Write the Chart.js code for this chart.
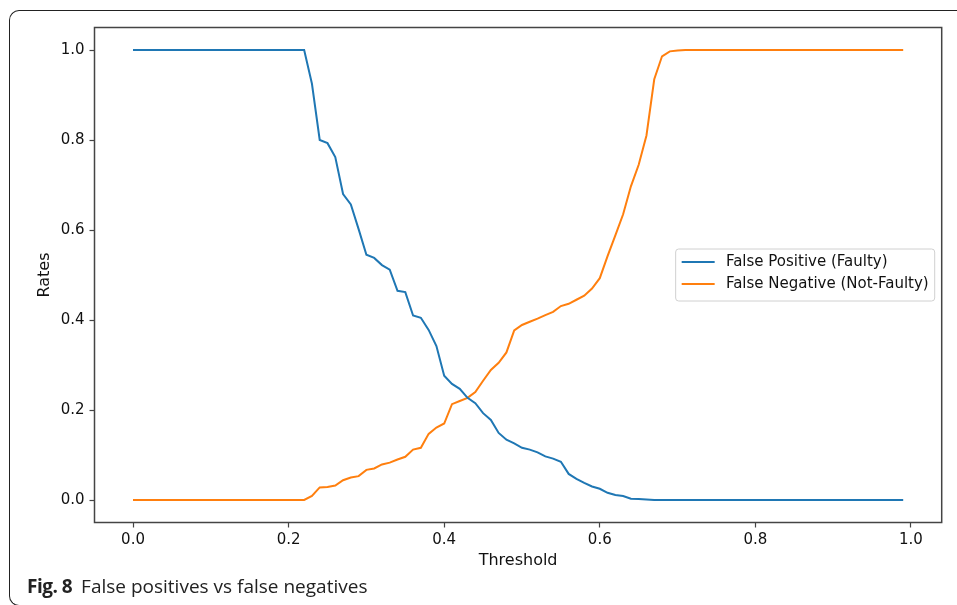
<!DOCTYPE html>
<html>
<head>
<meta charset="utf-8">
<script src="https://cdn.jsdelivr.net/npm/chart.js@4"></script>
<style>
    body { margin: 0; background: #fff; }
    #wrap { position: relative; width: 957px; height: 605px; overflow: hidden; }
    #frame {
        position: absolute; left: 9px; top: 10px; width: 1000px; height: 594px;
        border-left: 1.5px solid #222; border-top: 1.5px solid #222;
        border-bottom: 1.5px solid #222;
        border-radius: 10px 0 0 10px;
    }
    #fpChart { position: absolute; left: 0; top: 0; }
    #caption {
        position: absolute; left: 27px; top: 573px;
        font-family: "Open Sans", "Noto Sans", sans-serif; font-size: 19px; color: #222;
        white-space: nowrap;
    }
    #caption b { font-weight: 700; margin-right: 4px; letter-spacing: -0.5px; }
</style>
</head>
<body>
<div id="wrap">
    <div id="frame"></div>
    <canvas id="fpChart" width="957" height="605"></canvas>
    <div id="caption"><b>Fig. 8</b> False positives vs false negatives</div>
</div>
<script>
// threshold values (x axis)
const thresholds = [
    0.00, 0.01, 0.02, 0.03, 0.04, 0.05, 0.06, 0.07, 0.08, 0.09,
    0.10, 0.11, 0.12, 0.13, 0.14, 0.15, 0.16, 0.17, 0.18, 0.19,
    0.20, 0.21, 0.22, 0.23, 0.24, 0.25, 0.26, 0.27, 0.28, 0.29,
    0.30, 0.31, 0.32, 0.33, 0.34, 0.35, 0.36, 0.37, 0.38, 0.39,
    0.40, 0.41, 0.42, 0.43, 0.44, 0.45, 0.46, 0.47, 0.48, 0.49,
    0.50, 0.51, 0.52, 0.53, 0.54, 0.55, 0.56, 0.57, 0.58, 0.59,
    0.60, 0.61, 0.62, 0.63, 0.64, 0.65, 0.66, 0.67, 0.68, 0.69,
    0.70, 0.71, 0.72, 0.73, 0.74, 0.75, 0.76, 0.77, 0.78, 0.79,
    0.80, 0.81, 0.82, 0.83, 0.84, 0.85, 0.86, 0.87, 0.88, 0.89,
    0.90, 0.91, 0.92, 0.93, 0.94, 0.95, 0.96, 0.97, 0.98, 0.99
];

const falsePositive = [
    1, 1, 1, 1, 1, 1, 1, 1, 1, 1,
    1, 1, 1, 1, 1, 1, 1, 1, 1, 1,
    1, 1, 1, 0.925, 0.80, 0.793, 0.762, 0.68, 0.657, 0.602,
    0.545, 0.538, 0.522, 0.512, 0.465, 0.462, 0.41, 0.405, 0.378, 0.342,
    0.276, 0.258, 0.247, 0.227, 0.215, 0.193, 0.178, 0.149, 0.134, 0.126,
    0.116, 0.112, 0.106, 0.097, 0.092, 0.085, 0.058, 0.047, 0.038, 0.030,
    0.025, 0.016, 0.011, 0.009, 0.003, 0.002, 0.001, 0, 0, 0,
    0, 0, 0, 0, 0, 0, 0, 0, 0, 0,
    0, 0, 0, 0, 0, 0, 0, 0, 0, 0,
    0, 0, 0, 0, 0, 0, 0, 0, 0, 0
];

const falseNegative = [
    0, 0, 0, 0, 0, 0, 0, 0, 0, 0,
    0, 0, 0, 0, 0, 0, 0, 0, 0, 0,
    0, 0, 0, 0.009, 0.028, 0.029, 0.032, 0.044, 0.050, 0.053,
    0.067, 0.070, 0.079, 0.083, 0.090, 0.096, 0.112, 0.116, 0.147, 0.161,
    0.170, 0.213, 0.220, 0.227, 0.240, 0.265, 0.289, 0.305, 0.328, 0.377,
    0.389, 0.396, 0.403, 0.411, 0.418, 0.431, 0.436, 0.445, 0.454, 0.470,
    0.493, 0.542, 0.588, 0.635, 0.697, 0.745, 0.810, 0.935, 0.986, 0.997,
    0.999, 1, 1, 1, 1, 1, 1, 1, 1, 1,
    1, 1, 1, 1, 1, 1, 1, 1, 1, 1,
    1, 1, 1, 1, 1, 1, 1, 1, 1, 1
];

const xTicks = [0, 0.2, 0.4, 0.6, 0.8, 1.0];
const yTicks = [0, 0.2, 0.4, 0.6, 0.8, 1.0];
const seriesLabels = ['False Positive (Faulty)', 'False Negative (Not-Faulty)'];
const seriesColors = ['#1f77b4', '#ff7f0e'];

function toPoints(values) {
    return values.map((v, i) => ({ x: thresholds[i], y: v }));
}

// axes frame + matplotlib style legend (center right)
const framePlugin = {
    id: 'frameAndLegend',
    afterDatasetsDraw(chart) {
        const ctx = chart.ctx;
        const a = chart.chartArea;
        ctx.save();
        ctx.strokeStyle = '#444';
        ctx.lineWidth = 1.5;
        ctx.strokeRect(a.left, a.top, a.right - a.left, a.bottom - a.top);

        const fs = 15;
        ctx.font = fs + 'px "DejaVu Sans"';
        let textW = 0;
        chart.data.datasets.forEach(ds => {
            textW = Math.max(textW, ctx.measureText(ds.label).width);
        });
        const pad = 0.4 * fs, handle = 2.2 * fs, gap = 0.75 * fs, rowH = 22;
        const boxW = pad + handle + gap + textW + pad;
        const boxH = pad * 2 + rowH * chart.data.datasets.length - 4;
        const right = a.right - 7;
        const left = right - boxW;
        const top = (a.top + a.bottom) / 2 - boxH / 2;

        ctx.fillStyle = 'rgba(255,255,255,0.8)';
        ctx.strokeStyle = '#d0d0d0';
        ctx.lineWidth = 1;
        ctx.beginPath();
        ctx.roundRect(left, top, boxW, boxH, 3);
        ctx.fill();
        ctx.stroke();

        ctx.textBaseline = 'middle';
        ctx.textAlign = 'left';
        chart.data.datasets.forEach((ds, i) => {
            const y = top + pad + rowH * i + 7;
            ctx.strokeStyle = ds.borderColor;
            ctx.lineWidth = 2;
            ctx.beginPath();
            ctx.moveTo(left + pad, y);
            ctx.lineTo(left + pad + handle, y);
            ctx.stroke();
            ctx.fillStyle = '#111';
            ctx.fillText(ds.label, left + pad + handle + gap, y);
        });
        ctx.restore();
    }
};

Chart.defaults.font.family = '"DejaVu Sans"';
Chart.defaults.font.size = 15;
Chart.defaults.color = '#111';

const ctx = document.getElementById('fpChart').getContext('2d');
new Chart(ctx, {
    type: 'line',
    data: {
        datasets: [
            {
                label: seriesLabels[0],
                data: toPoints(falsePositive),
                borderColor: seriesColors[0],
                backgroundColor: seriesColors[0],
                borderWidth: 2,
                pointRadius: 0,
                tension: 0
            },
            {
                label: seriesLabels[1],
                data: toPoints(falseNegative),
                borderColor: seriesColors[1],
                backgroundColor: seriesColors[1],
                borderWidth: 2,
                pointRadius: 0,
                tension: 0
            }
        ]
    },
    options: {
        responsive: false,
        animation: false,
        layout: { padding: { left: 0, top: 27.5, right: 15.3, bottom: 0 } },
        plugins: {
            legend: { display: false },
            tooltip: { enabled: false }
        },
        scales: {
            x: {
                type: 'linear',
                min: -0.0495,
                max: 1.0395,
                afterBuildTicks: s => { s.ticks = xTicks.map(v => ({ value: v })); },
                afterFit: s => { s.height = 82.5; },
                ticks: {
                    padding: 4,
                    callback: v => v.toFixed(1)
                },
                grid: {
                    drawOnChartArea: false,
                    drawTicks: true,
                    tickLength: 5,
                    tickColor: '#444',
                    tickWidth: 1.2
                },
                border: { display: false },
                title: {
                    display: true,
                    text: 'Threshold',
                    font: { size: 16 },
                    padding: { top: 0, bottom: 35 }
                }
            },
            y: {
                min: -0.05,
                max: 1.05,
                afterBuildTicks: s => { s.ticks = yTicks.map(v => ({ value: v })); },
                afterFit: s => { s.width = 94.5; },
                ticks: {
                    padding: 5,
                    callback: v => v.toFixed(1)
                },
                grid: {
                    drawOnChartArea: false,
                    drawTicks: true,
                    tickLength: 5,
                    tickColor: '#444',
                    tickWidth: 1.2
                },
                border: { display: false },
                title: {
                    display: true,
                    text: 'Rates',
                    font: { size: 16 },
                    padding: { top: 35, bottom: 0 }
                }
            }
        }
    },
    plugins: [framePlugin]
});
</script>
</body>
</html>
